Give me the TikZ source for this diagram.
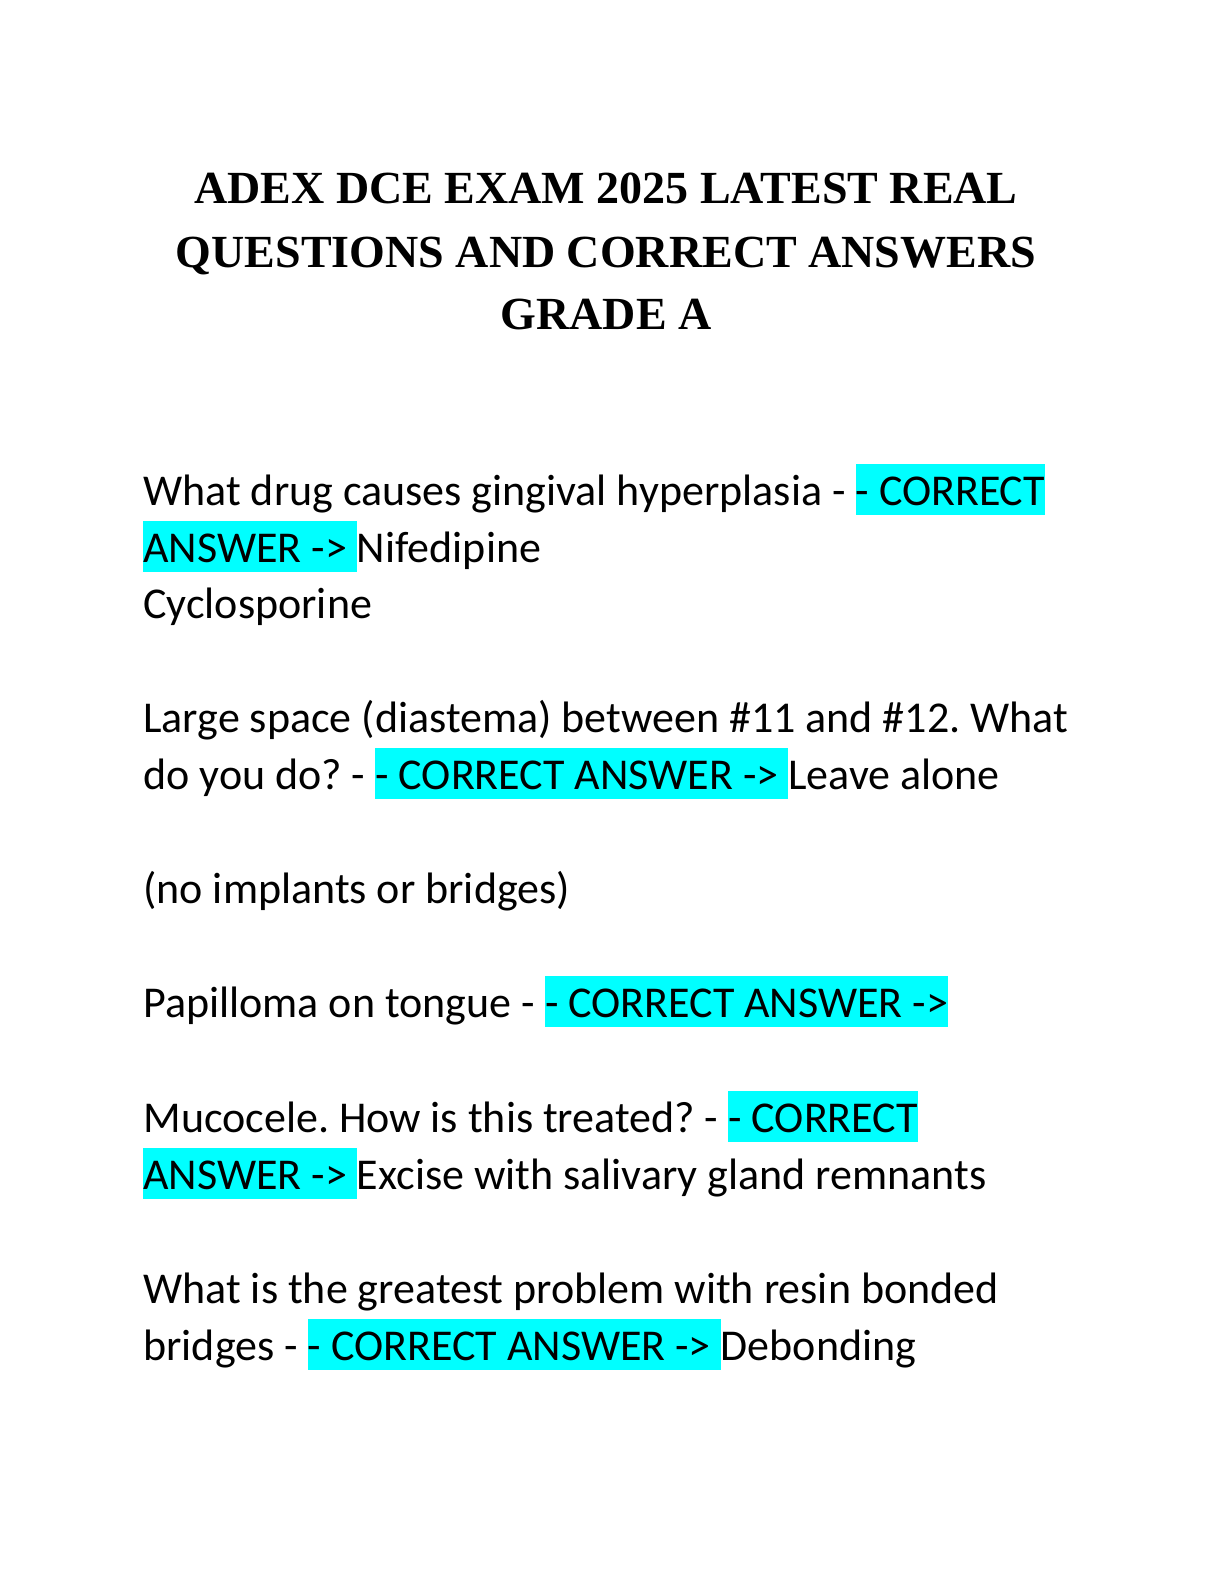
\documentclass[tikz,border=0pt]{standalone}
\usepackage{fontspec}
\setmainfont{Carlito}
\newfontfamily\titlefont{Liberation Serif}
\usetikzlibrary{positioning}
\definecolor{hlcyan}{RGB}{0,255,255}
\newcommand{\hlans}[1]{{\setlength\fboxsep{0pt}\colorbox{hlcyan}{\rule[-5pt]{0pt}{25.5pt}#1}}}
\newcommand{\ans}{\hlans{- CORRECT ANSWER ->~}}
\frenchspacing

\begin{document}
\begin{tikzpicture}[x=0.5pt,y=-0.5pt,
    title/.style={font=\titlefont\bfseries\fontsize{23}{28}\selectfont,anchor=base,inner sep=0pt},
    line/.style={font=\fontsize{22}{28}\selectfont,anchor=base west,inner sep=0pt}]
\useasboundingbox (0,0) rectangle (1224,1584);

% title
\node[title] (t1) at (606,203) {ADEX DCE EXAM 2025 LATEST REAL};
\node[title] (t2) at (606,267) {QUESTIONS AND CORRECT ANSWERS};
\node[title] (t3) at (606,329) {GRADE A};

% questions
\node[line] (q1a) at (143,505) {What drug causes gingival hyperplasia - \hlans{- CORRECT}};
\node[line] (q1b) at (143,562) {\hlans{ANSWER ->~}Nifedipine};
\node[line] (q1c) at (143,618) {Cyclosporine};

\node[line] (q2a) at (143,732) {Large space (diastema) between \#11 and \#12. What};
\node[line] (q2b) at (143,789) {do you do? - \ans Leave alone};
\node[line] (q2c) at (143,903) {(no implants or bridges)};

\node[line] (q3a) at (143,1017) {Papilloma on tongue - \hlans{- CORRECT ANSWER ->}};

\node[line] (q4a) at (143,1132) {Mucocele. How is this treated? - \hlans{- CORRECT}};
\node[line] (q4b) at (143,1189) {\hlans{ANSWER ->~}Excise with salivary gland remnants};

\node[line] (q5a) at (143,1303) {What is the greatest problem with resin bonded};
\node[line] (q5b) at (143,1360) {bridges - \ans Debonding};
\end{tikzpicture}
\end{document}
